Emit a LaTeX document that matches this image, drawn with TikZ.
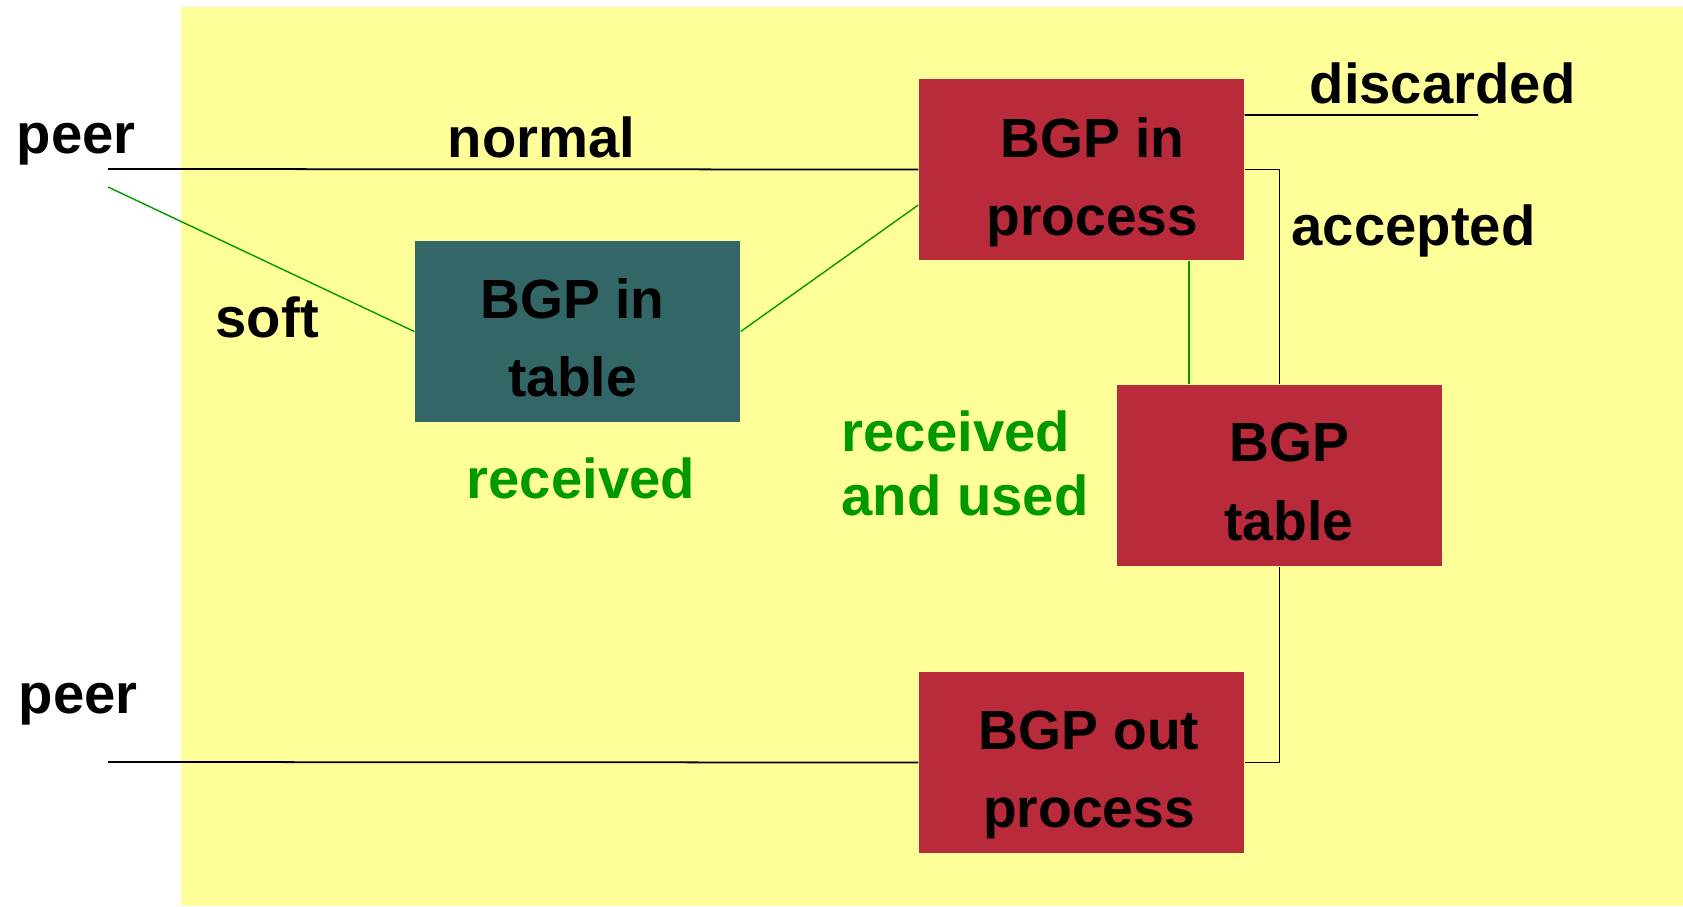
\documentclass[tikz,border=0pt]{standalone}
\usepackage{fontspec}
\setmainfont{Liberation Sans}
\usetikzlibrary{calc}

\definecolor{bgyellow}{RGB}{255,255,153}
\definecolor{boxred}{RGB}{185,42,58}
\definecolor{boxteal}{RGB}{51,102,102}
\definecolor{labelgreen}{RGB}{0,153,0}

\tikzset{
  procbox/.style={rectangle, fill=boxred, minimum width=3.25cm, minimum height=1.81cm, inner sep=0pt},
  tablebox/.style={procbox, fill=boxteal},
  boxtext/.style={inner sep=0pt, align=center, font=\fontsize{15.7}{22.2}\selectfont\bfseries},
  lbl/.style={inner sep=0pt, anchor=base west, font=\fontsize{16}{18.2}\selectfont\bfseries},
  greenlbl/.style={lbl, text=labelgreen},
  wire/.style={line width=0.5pt},
  softwire/.style={line width=0.4pt, draw=labelgreen},
}

\begin{document}
\begin{tikzpicture}
\useasboundingbox (0,0) rectangle (16.83,-9.06);
\fill[bgyellow] (1.81,-0.07) rectangle (16.83,-9.06);

\node[procbox] (inproc) at (10.815,-1.695) {};
\node[tablebox] (intable) at (5.775,-3.315) {};
\node[procbox] (bgptable) at (12.795,-4.755) {};
\node[procbox] (outproc) at (10.815,-7.625) {};

\coordinate (peer1) at (1.08,-1.69);
\coordinate (peer1soft) at (1.08,-1.87);
\coordinate (peer2) at (1.08,-7.62);
\coordinate (disc) at (14.78,-1.15);

% wires
\draw[wire] (peer1) -- (inproc.west);
\draw[softwire] (peer1soft) -- (intable.west);
\draw[softwire] (intable.east) -- ([yshift=-0.355cm]inproc.west);
\draw[wire] ([yshift=0.545cm]inproc.east) -- (disc);
\draw[wire] (inproc.east) -| (bgptable.north);
\draw[softwire] ([xshift=-0.905cm]bgptable.north) -- ([xshift=-0.905cm]bgptable.north |- inproc.south);
\draw[wire] (bgptable.south) |- (outproc.east);
\draw[wire] (peer2) -- (outproc.west);

% box texts
\node[boxtext] (inproctext) at ([xshift=0.11cm, yshift=-0.13cm]inproc) {BGP in\\process};
\node[boxtext] (intabletext) at ([xshift=-0.05cm, yshift=-0.065cm]intable) {BGP in\\table};
\node[boxtext] (bgptabletext) at ([xshift=0.095cm, yshift=-0.065cm]bgptable) {BGP\\table};
\node[boxtext] (outproctext) at ([xshift=0.075cm, yshift=-0.125cm]outproc) {BGP out\\process};

% labels
\node[lbl] (peertop) at (0.16,-1.53) {peer};
\node[lbl] (normal) at (4.47,-1.57) {normal};
\node[lbl] (soft) at (2.15,-3.37) {soft};
\node[greenlbl] (received) at (4.66,-4.98) {received};
\node[greenlbl, align=left, anchor=west] (recused) at (8.41,-4.635) {received\\and used};
\node[lbl] (discarded) at (13.09,-1.03) {discarded};
\node[lbl] (accepted) at (12.91,-2.45) {accepted};
\node[lbl] (peerbot) at (0.18,-7.13) {peer};

\end{tikzpicture}
\end{document}
